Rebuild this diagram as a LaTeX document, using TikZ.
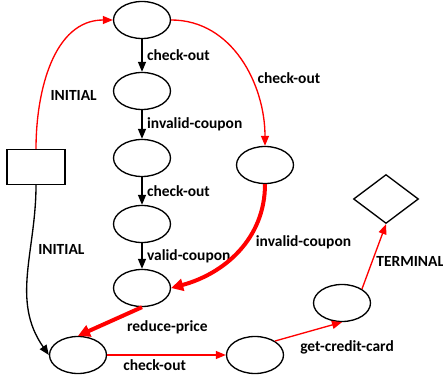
\documentclass[tikz,border=0pt]{standalone}
\usepackage{fontspec}
\setmainfont{Carlito}
\usetikzlibrary{arrows.meta}
\usetikzlibrary{shapes.geometric}
\usetikzlibrary{positioning}

\tikzset{
  state/.style={draw,ellipse,line width=1pt,minimum width=42.75pt,minimum height=27.75pt,inner sep=0pt},
  lab/.style={font=\fontsize{11.6}{14}\selectfont\bfseries},
  edge/.style={line width=1pt,-{Triangle[length=7.5pt,width=6pt]}},
  bigedge/.style={line width=3pt,-{Triangle[length=9pt,width=9pt]}}
}

\begin{document}
\begin{tikzpicture}[x=0.75pt,y=-0.75pt]

\useasboundingbox (0,0) rectangle (443,381);

\node[draw,line width=1pt,minimum width=43.5pt,minimum height=26.25pt,inner sep=0pt] (start) at (36,167) {};
\node[state] (s0) at (142,20) {};
\node[state] (s1) at (142,91) {};
\node[state] (s2) at (142,158) {};
\node[state] (s3) at (142,224) {};
\node[state] (s4) at (142,288) {};
\node[state] (s5) at (78,355) {};
\node[state] (s6) at (255,355) {};
\node[state] (s7) at (342,303) {};
\node[state] (s8) at (265,165) {};
\node[draw,diamond,line width=1pt,minimum width=48.75pt,minimum height=36.75pt,inner sep=0pt] (final) at (386,199) {};

\draw[edge,black] (s0)--(s1) node[lab,right,midway] {check-out};
\draw[edge,black] (s1)--(s2) node[lab,right,midway] {invalid-coupon};
\draw[edge,black] (s2)--(s3) node[lab,right,midway] {check-out};
\draw[edge,black] (s3)--(s4) node[lab,right,midway] {valid-coupon};

\draw[edge,red] (start.north) to[out=90,in=180] node[lab,black,pos=0.3,right=3pt] {INITIAL} (s0.west);
\draw[edge,black] (start.south) to[out=270,in=125] node[lab,pos=0.35,right=2pt] {INITIAL} (s5.west);
\draw[edge,red] (s0.east) to[out=0,in=90] node[lab,black,pos=0.62,right=1pt] {check-out} (s8.north);
\draw[bigedge,red] (s8.south) to[out=270,in=15] node[lab,black,pos=0.42,right=3pt] {invalid-coupon} (s4.east);
\draw[bigedge,red] (s4.south)--(s5.north) node[lab,black,midway,anchor=west,xshift=8pt,yshift=-4.5pt] {reduce-price};
\draw[edge,red] (s5.east)--(s6.west) node[lab,black,pos=0.4,below] {check-out};
\draw[edge,red] (s6.35)--(s7.south) node[lab,black,midway,anchor=west,xshift=-10pt,yshift=-12pt] {get-credit-card};
\draw[edge,red] (s7.35)--(final.south) node[lab,black,midway,anchor=west,xshift=-2pt,yshift=-4pt] {TERMINAL};

\end{tikzpicture}
\end{document}
